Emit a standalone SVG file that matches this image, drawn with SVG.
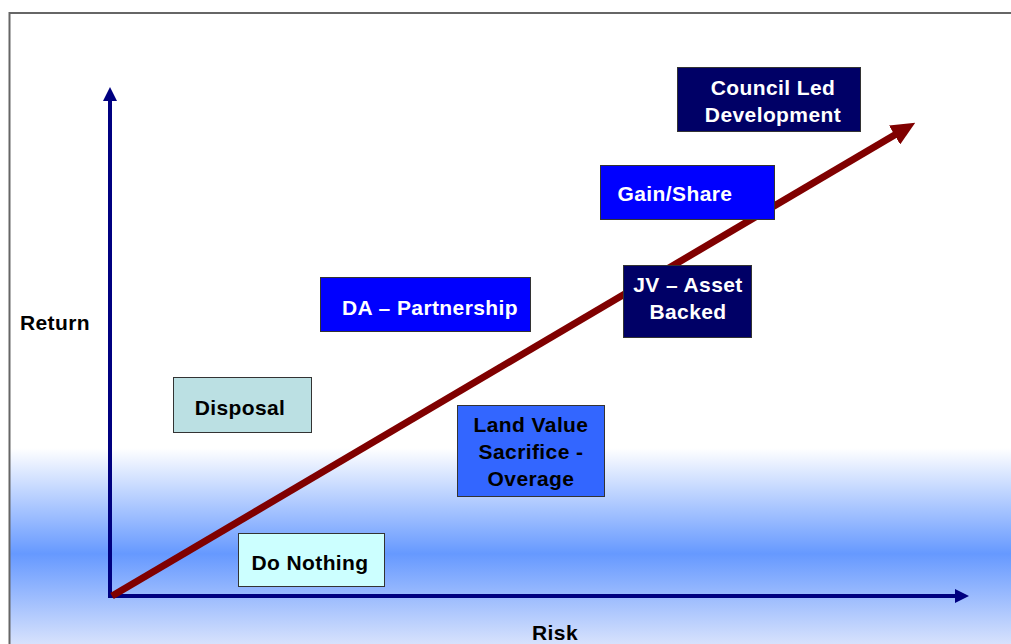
<svg xmlns="http://www.w3.org/2000/svg" width="1011" height="644" viewBox="0 0 1011 644">
<defs>
<linearGradient id="bg" x1="0" y1="0" x2="0" y2="1" gradientUnits="objectBoundingBox">
<stop offset="0" stop-color="#ffffff"/>
<stop offset="0.68" stop-color="#ffffff"/>
<stop offset="0.845" stop-color="#6699ff"/>
<stop offset="1" stop-color="#e2e9fc"/>
</linearGradient>
<marker id="axisHead" viewBox="0 0 14 14" refX="2" refY="7" markerWidth="14" markerHeight="14" markerUnits="userSpaceOnUse" orient="auto">
<path d="M0,0 L14,7 L0,14 Z" fill="#000080"/>
</marker>
<marker id="redHead" viewBox="0 0 24 22" refX="4" refY="11" markerWidth="24" markerHeight="22" markerUnits="userSpaceOnUse" orient="auto">
<path d="M0,0 L24,11 L0,22 Z" fill="#800000"/>
</marker>
<style>
.box{stroke:#333;stroke-width:1}
.lbl{font-family:"Liberation Sans",Arial,sans-serif;font-weight:bold;font-size:21px;letter-spacing:0.4px;text-anchor:middle}
.w{fill:#ffffff}
.k{fill:#000000}
</style>
</defs>
<rect x="0" y="0" width="1011" height="644" fill="#ffffff"/>
<rect x="9.5" y="13" width="1010" height="640" fill="url(#bg)" stroke="#666" stroke-width="2"/>

<g id="connectors">
<line x1="110" y1="598" x2="110" y2="99" stroke="#000080" stroke-width="4" marker-end="url(#axisHead)"/>
<line x1="108" y1="596" x2="957" y2="596" stroke="#000080" stroke-width="4" marker-end="url(#axisHead)"/>
<line x1="112" y1="596" x2="898" y2="133" stroke="#800000" stroke-width="7" marker-end="url(#redHead)"/>
</g>

<g id="axis-return"><text class="lbl k" x="55" y="330">Return</text></g>
<g id="axis-risk"><text class="lbl k" x="555" y="640">Risk</text></g>

<g id="council">
<rect class="box" x="677.5" y="67.5" width="183" height="64" fill="#000066"/>
<text class="lbl w" x="773" y="95">Council Led</text>
<text class="lbl w" x="773" y="122">Development</text>
</g>
<g id="gainshare">
<rect class="box" x="600.5" y="165.5" width="174" height="54" fill="#0000ff"/>
<text class="lbl w" x="675" y="201">Gain/Share</text>
</g>
<g id="jv">
<rect class="box" x="623.5" y="265.5" width="128" height="72" fill="#000066"/>
<text class="lbl w" x="688" y="292">JV – Asset</text>
<text class="lbl w" x="688" y="319">Backed</text>
</g>
<g id="da">
<rect class="box" x="320.5" y="277.5" width="210" height="54" fill="#0000ff"/>
<text class="lbl w" x="430" y="315">DA – Partnership</text>
</g>
<g id="disposal">
<rect class="box" x="173.5" y="377.5" width="138" height="55" fill="#bbe0e3"/>
<text class="lbl k" x="240" y="415">Disposal</text>
</g>
<g id="landvalue">
<rect class="box" x="457.5" y="405.5" width="147" height="91" fill="#3366ff"/>
<text class="lbl k" x="531" y="432">Land Value</text>
<text class="lbl k" x="531" y="459">Sacrifice -</text>
<text class="lbl k" x="531" y="486">Overage</text>
</g>
<g id="donothing">
<rect class="box" x="238.5" y="533.5" width="146" height="53" fill="#ccffff"/>
<text class="lbl k" x="310" y="570">Do Nothing</text>
</g>
</svg>
